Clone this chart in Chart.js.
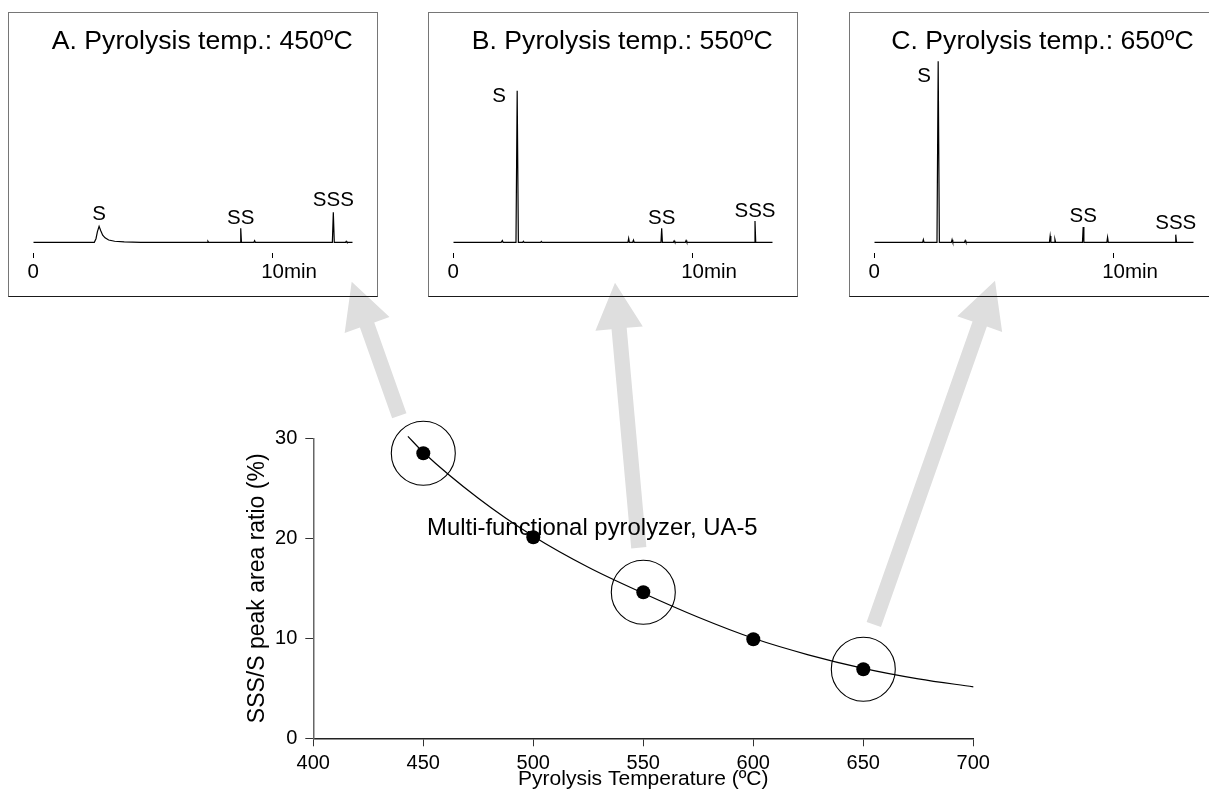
<!DOCTYPE html>
<html><head><meta charset="utf-8">
<script src="https://cdn.jsdelivr.net/npm/chart.js@4.4.1/dist/chart.umd.min.js"></script>
<style>
html,body{margin:0;padding:0;background:#fff;overflow:hidden;width:1209px;height:807px;position:relative;}
canvas{position:absolute;}
.box{position:absolute;top:12px;width:370px;height:285px;box-sizing:border-box;border:1.5px solid #767676;border-bottom-color:#1a1a1a;z-index:3;pointer-events:none;}
#main{left:0;top:0;z-index:2;pointer-events:none;}
.ins{top:12px;z-index:1;}
</style></head><body>
<canvas id="insA" class="ins" width="370" height="285" style="left:8px"></canvas>
<canvas id="insB" class="ins" width="370" height="285" style="left:428px"></canvas>
<canvas id="insC" class="ins" width="370" height="285" style="left:849px"></canvas>
<canvas id="main" width="1209" height="807"></canvas>
<div class="box" style="left:8px"></div>
<div class="box" style="left:428px"></div>
<div class="box" style="left:849px"></div>
<script>
// ---------- main chart data ----------
const temperatures = [450, 500, 550, 600, 650];
const ratioValues = [28.5, 20.1, 14.6, 9.9, 6.9];
const highlightedTemps = [450, 550, 650];
const fitCurveX = [443, 450, 475, 500, 525, 550, 575, 600, 625, 650, 675, 700];
const fitCurveY = [30.2, 28.6, 24.0, 20.2, 17.1, 14.5, 12.1, 10.0, 8.35, 7.0, 5.95, 5.15];
const xTickValues = [400, 450, 500, 550, 600, 650, 700];
const yTickValues = [0, 10, 20, 30];
const xAxisTitle = 'Pyrolysis Temperature (ºC)';
const yAxisTitle = 'SSS/S peak area ratio (%)';
const annotationText = 'Multi-functional pyrolyzer, UA-5';
const annotationAt = [451.7, 20.3];

// ---------- chromatogram data ----------
const chromTitles = ['A. Pyrolysis temp.: 450ºC', 'B. Pyrolysis temp.: 550ºC', 'C. Pyrolysis temp.: 650ºC'];
const timeTicks = [0, 10];
const timeUnit = 'min';
const peakNames = ['S', 'SS', 'SSS'];

const timeA = [0, 2.0, 2.55, 2.62, 2.68, 2.75, 2.82, 2.9, 3.0, 3.15, 3.4, 3.8, 4.5, 7.27, 7.3, 7.33, 8.64, 8.67, 8.7, 9.22, 9.25, 9.28, 12.5, 12.54, 12.58, 13.05, 13.08, 13.11, 13.35];
const signalA = [0, 0, 0, 2, 6, 9.0, 6.5, 4, 2.5, 1.3, 0.6, 0.25, 0, 0, 0.6, 0, 0, 7.9, 0, 0, 0.9, 0, 0, 16.8, 0, 0, 0.6, 0, 0];
const peakTimesA = [2.75, 8.67, 12.54];
const peakHeightsA = [9.0, 7.9, 16.8];

const timeB = [0, 2.0, 2.05, 2.08, 2.62, 2.67, 2.72, 2.9, 2.93, 2.96, 3.65, 3.68, 3.71, 7.3, 7.33, 7.36, 7.5, 7.53, 7.56, 8.68, 8.71, 8.74, 9.2, 9.23, 9.26, 9.7, 9.73, 9.76, 12.58, 12.61, 12.64, 13.35];
const signalB = [0, 0, 1, 0, 0, 85, 0, 0, 0.6, 0, 0, 0.5, 0, 0, 2.2, 0, 0, 1.2, 0, 0, 7.9, 0, 0, 0.8, 0, 0, 1.0, 0, 0, 12, 0, 0];
const peakTimesB = [2.67, 8.71, 12.61];
const peakHeightsB = [85, 7.9, 12];

const timeC = [0, 2.02, 2.05, 2.08, 2.62, 2.67, 2.72, 3.22, 3.25, 3.28, 3.77, 3.8, 3.83, 7.32, 7.35, 7.38, 7.52, 7.55, 7.58, 8.7, 8.73, 8.76, 9.72, 9.75, 9.78, 12.57, 12.6, 12.63, 13.35];
const signalC = [0, 0, 1.5, 0, 0, 101.5, 0, 0, 1.5, 0, 0, 1.0, 0, 0, 3.5, 0, 0, 1.7, 0, 0, 8.6, 0, 0, 2.8, 0, 0, 4.3, 0, 0];
const peakTimesC = [2.67, 8.73, 12.6];
const peakHeightsC = [101.5, 8.6, 4.3];

// label offsets (px) relative to peak apex
const labelOffsetsA = [[0, -12], [0, -10], [0, -12]];
const labelOffsetsB = [[-18, 6], [0, -10], [0, -10]];
const labelOffsetsC = [[-14, 15], [0, -11], [0, -11]];

const FONT = "'Liberation Sans', Arial, Helvetica, sans-serif";
Chart.defaults.font.family = FONT;
Chart.defaults.color = '#000';

function makeInset(id, title, times, signal, pTimes, pHeights, offsets) {
  const labelPlugin = {
    id: 'chromLabels',
    afterDraw(chart) {
      const ctx = chart.ctx, xs = chart.scales.x, ys = chart.scales.y;
      ctx.save();
      ctx.fillStyle = '#000';
      ctx.font = '20.5px ' + FONT;
      ctx.textBaseline = 'middle';
      const ly = chart.chartArea.bottom + 19.5;
      timeTicks.forEach((v, i) => {
        const px = xs.getPixelForValue(v);
        const num = String(v);
        ctx.textAlign = 'center';
        ctx.fillText(num, px, ly);
        if (i === timeTicks.length - 1) {
          const w = ctx.measureText(num).width;
          ctx.textAlign = 'left';
          ctx.fillText(timeUnit, px + w / 2, ly);
        }
      });
      ctx.textAlign = 'center';
      peakNames.forEach((n, i) => {
        const px = xs.getPixelForValue(pTimes[i]) + offsets[i][0];
        const py = ys.getPixelForValue(pHeights[i]) + offsets[i][1];
        ctx.fillText(n, px, py);
      });
      ctx.restore();
    }
  };
  return new Chart(document.getElementById(id), {
    type: 'line',
    data: { datasets: [{
      data: times.map((t, i) => ({ x: t, y: signal[i] })),
      borderColor: '#000', borderWidth: 1.2, pointRadius: 0, tension: 0, fill: false
    }]},
    options: {
      responsive: false, animation: false, events: [],
      layout: { padding: { left: 25.3, right: 25.3, top: 0, bottom: 0 } },
      plugins: {
        legend: { display: false }, tooltip: { enabled: false },
        title: { display: true, text: title, align: 'end', color: '#000',
          font: { size: 26.6, weight: 'normal', lineHeight: 1.2 }, padding: { top: 14, bottom: 2.5 } }
      },
      scales: {
        x: { type: 'linear', min: 0, max: 13.35,
          afterBuildTicks(s) { s.ticks = timeTicks.map(v => ({ value: v })); },
          ticks: { display: false },
          grid: { drawOnChartArea: false, drawTicks: true, tickLength: 5, color: '#000', lineWidth: 1 },
          border: { display: false },
          afterFit(s) { s.height = 44; s.paddingLeft = 0; s.paddingRight = 0; }
        },
        y: { display: false, min: -6, max: 102 }
      }
    },
    plugins: [labelPlugin]
  });
}

makeInset('insA', chromTitles[0], timeA, signalA, peakTimesA, peakHeightsA, labelOffsetsA);
makeInset('insB', chromTitles[1], timeB, signalB, peakTimesB, peakHeightsB, labelOffsetsB);
makeInset('insC', chromTitles[2], timeC, signalC, peakTimesC, peakHeightsC, labelOffsetsC);

// arrows: tips (page px) and tail offsets relative to the highlighted point
const arrowTips = [[351.7, 281.7], [615, 282.7], [995, 280.7]];
const arrowTailOffsets = [[-24, -37.5], [-4.5, -44.5], [10.5, -44.8]];

const decorPlugin = {
  id: 'decor',
  beforeDatasetsDraw(chart) {
    const ctx = chart.ctx, xs = chart.scales.x, ys = chart.scales.y;
    ctx.save();
    ctx.fillStyle = '#dedede';
    highlightedTemps.forEach((t, i) => {
      const px = xs.getPixelForValue(t);
      const py = ys.getPixelForValue(ratioValues[temperatures.indexOf(t)]);
      const tail = [px + arrowTailOffsets[i][0], py + arrowTailOffsets[i][1]];
      const tip = arrowTips[i];
      const dx = tip[0] - tail[0], dy = tip[1] - tail[1];
      const L = Math.hypot(dx, dy), ux = dx / L, uy = dy / L;
      const nx = -uy, ny = ux;
      const hb = [tip[0] - ux * 46, tip[1] - uy * 46];
      const sw = 7.6, hw = 23.8;
      ctx.beginPath();
      ctx.moveTo(tail[0] + nx * sw, tail[1] + ny * sw);
      ctx.lineTo(hb[0] + nx * sw, hb[1] + ny * sw);
      ctx.lineTo(hb[0] + nx * hw, hb[1] + ny * hw);
      ctx.lineTo(tip[0], tip[1]);
      ctx.lineTo(hb[0] - nx * hw, hb[1] - ny * hw);
      ctx.lineTo(hb[0] - nx * sw, hb[1] - ny * sw);
      ctx.lineTo(tail[0] - nx * sw, tail[1] - ny * sw);
      ctx.closePath();
      ctx.fill();
    });
    ctx.fillStyle = '#000';
    ctx.font = '23.9px ' + FONT;
    ctx.textAlign = 'left';
    ctx.textBaseline = 'alphabetic';
    ctx.fillText(annotationText, xs.getPixelForValue(annotationAt[0]), ys.getPixelForValue(annotationAt[1]));
    ctx.restore();
  }
};

new Chart(document.getElementById('main'), {
  type: 'scatter',
  data: { datasets: [
    { type: 'line', data: fitCurveX.map((x, i) => ({ x, y: fitCurveY[i] })),
      borderColor: '#000', borderWidth: 1.2, pointRadius: 0, cubicInterpolationMode: 'monotone',
      fill: false, clip: false, order: 3 },
    { data: temperatures.map((x, i) => ({ x, y: ratioValues[i] })),
      pointRadius: 7, backgroundColor: '#000', borderColor: '#000', borderWidth: 0, clip: false, order: 2 },
    { data: highlightedTemps.map(x => ({ x, y: ratioValues[temperatures.indexOf(x)] })),
      pointRadius: 32, backgroundColor: 'rgba(0,0,0,0)', borderColor: '#000', borderWidth: 1.1, clip: false, order: 1 }
  ]},
  options: {
    responsive: false, animation: false, events: [],
    layout: { padding: { left: 244, right: 235.7, top: 438.3, bottom: 8.7 } },
    plugins: { legend: { display: false }, tooltip: { enabled: false } },
    scales: {
      x: { type: 'linear', min: 400, max: 700,
        afterBuildTicks(s) { s.ticks = xTickValues.map(v => ({ value: v })); },
        ticks: { font: { size: 20 }, color: '#000', padding: 5, maxRotation: 0, autoSkip: false },
        grid: { drawOnChartArea: false, tickLength: 8, color: '#333', lineWidth: 1 },
        border: { color: '#222', width: 1.5 },
        title: { display: true, text: xAxisTitle, color: '#000', font: { size: 21 }, padding: { top: 0, bottom: 6 } },
        afterFit(s) { s.height = 60; s.paddingLeft = 0; s.paddingRight = 0; }
      },
      y: { min: 0, max: 30,
        afterBuildTicks(s) { s.ticks = yTickValues.map(v => ({ value: v })); },
        ticks: { font: { size: 20 }, color: '#000', padding: 8 },
        grid: { drawOnChartArea: false, tickLength: 8, color: '#333', lineWidth: 1 },
        border: { color: '#666', width: 1.5 },
        title: { display: true, text: yAxisTitle, color: '#000', font: { size: 23 }, padding: 0 },
        afterFit(s) { s.width = 69.3; s.paddingTop = 0; s.paddingBottom = 0; }
      }
    }
  },
  plugins: [decorPlugin]
});
</script>
</body></html>
